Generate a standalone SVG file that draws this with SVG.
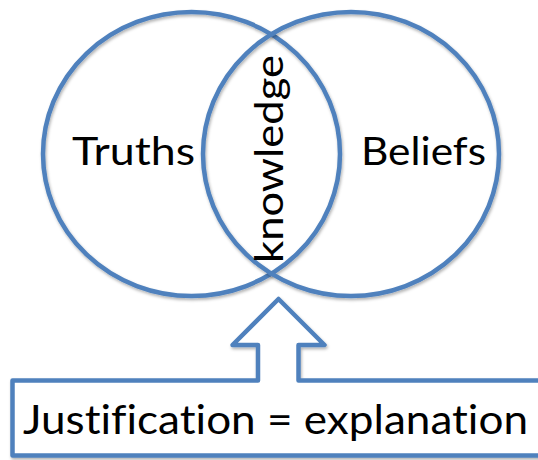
<svg xmlns="http://www.w3.org/2000/svg" width="538" height="460" viewBox="0 0 538 460">
  <defs>
    <filter id="sh" x="-10%" y="-10%" width="120%" height="120%">
      <feDropShadow dx="1" dy="2" stdDeviation="1.5" flood-color="#000" flood-opacity="0.3"/>
    </filter>
  </defs>
  <style>
    .shape { fill: none; stroke: #4F81BD; stroke-width: 4.5; stroke-linejoin: round; filter: url(#sh); }
    .box { fill: #fff; stroke: #4F81BD; stroke-width: 4.5; stroke-linejoin: round; filter: url(#sh); }
    .lbl { font-family: Lato, "Noto Sans", sans-serif; fill: #000; font-variant-ligatures: none; }
  </style>
  <rect width="538" height="460" fill="#fff"/>
  <g id="truths">
    <ellipse class="shape" cx="191.5" cy="154" rx="148.5" ry="142"/>
    <text class="lbl" x="72" y="165" font-size="39" textLength="123" lengthAdjust="spacingAndGlyphs">Truths</text>
  </g>
  <g id="beliefs">
    <ellipse class="shape" cx="351" cy="154" rx="148" ry="142"/>
    <text class="lbl" x="361" y="165" font-size="39" textLength="125" lengthAdjust="spacingAndGlyphs">Beliefs</text>
  </g>
  <g id="knowledge">
    <text class="lbl" transform="translate(283,263) rotate(-90)" x="0" y="0" font-size="39" textLength="208" lengthAdjust="spacingAndGlyphs">knowledge</text>
  </g>
  <g id="justification">
    <path class="box" d="M12.5 380.5 L258 380.5 L258 345 L232.5 345 L278.5 299 L324.5 345 L298.5 345 L298.5 380.5 L545 380.5 L545 455.5 L12.5 455.5 Z"/>
    <text class="lbl" x="23" y="434" font-size="40" textLength="505" lengthAdjust="spacingAndGlyphs">Justification = explanation</text>
  </g>
</svg>
